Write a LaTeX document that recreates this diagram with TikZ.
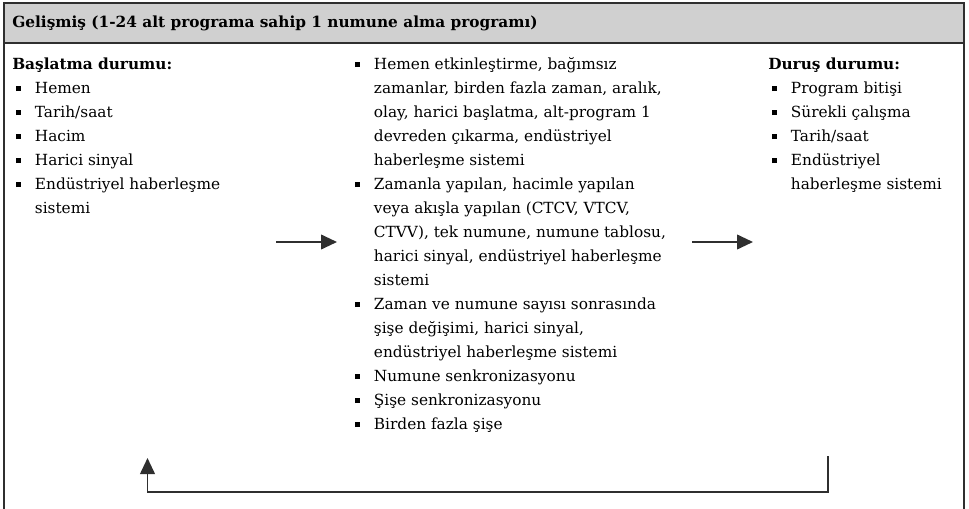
\documentclass[tikz,border=0pt]{standalone}
\usepackage{fontspec}
\setmainfont{DejaVu Serif}
\usetikzlibrary{arrows.meta,positioning,calc}
\definecolor{fhead}{HTML}{D0D0D0}
\definecolor{fline}{HTML}{2F2F2F}
\newcommand{\blt}{\makebox[17pt][l]{\hspace{2.5pt}\raisebox{1.6pt}{\rule{4pt}{4pt}}}}
\newcommand{\cnt}{\hspace*{17pt}}

\begin{document}
\begin{tikzpicture}[x=0.75pt, y=-0.75pt, font=\fontsize{11.5}{18}\selectfont,
  col/.style={anchor=north west, align=left, inner sep=0pt},
  flow/.style={line width=1.4pt, fline, -{Triangle[length=12pt,width=11pt]}}]
\useasboundingbox (0,0) rectangle (969,509);
% frame and header
\fill[fhead] (4,3) rectangle (964,43);
\draw[fline, line width=1.5pt] (4,520) -- (4,3) -- (964,3) -- (964,520);
\draw[fline, line width=1.5pt] (4,43) -- (964,43);
\node[col, anchor=base west] (title) at (12,28) {\textbf{Gelişmiş (1-24 alt programa sahip 1 numune alma programı)}};
% start conditions (first baseline at y=69)
\node[col] (start) at (12,52.2) {\strut\textbf{Başlatma durumu:}\\
  \blt Hemen\\
  \blt Tarih/saat\\
  \blt Hacim\\
  \blt Harici sinyal\\
  \blt Endüstriyel haberleşme\\
  \cnt sistemi};
% sampling modes
\node[col] (modes) at (351,52.2) {\strut\blt Hemen etkinleştirme, bağımsız\\
  \cnt zamanlar, birden fazla zaman, aralık,\\
  \cnt olay, harici başlatma, alt-program 1\\
  \cnt devreden çıkarma, endüstriyel\\
  \cnt haberleşme sistemi\\
  \blt Zamanla yapılan, hacimle yapılan\\
  \cnt veya akışla yapılan (CTCV, VTCV,\\
  \cnt CTVV), tek numune, numune tablosu,\\
  \cnt harici sinyal, endüstriyel haberleşme\\
  \cnt sistemi\\
  \blt Zaman ve numune sayısı sonrasında\\
  \cnt şişe değişimi, harici sinyal,\\
  \cnt endüstriyel haberleşme sistemi\\
  \blt Numune senkronizasyonu\\
  \blt Şişe senkronizasyonu\\
  \blt Birden fazla şişe};
% stop conditions
\node[col] (stop) at (768,52.2) {\strut\textbf{Duruş durumu:}\\
  \blt Program bitişi\\
  \blt Sürekli çalışma\\
  \blt Tarih/saat\\
  \blt Endüstriyel\\
  \cnt haberleşme sistemi};
% arrows
\coordinate (a1s) at (276,242);
\coordinate (a1e) at (337,242);
\coordinate (a2s) at (692,242);
\coordinate (a2e) at (753,242);
\draw[flow] (a1s) -- (a1e);
\draw[flow] (a2s) -- (a2e);
% loop back
\coordinate (loopR) at (828,456);
\coordinate (loopL) at (147.5,458);
\draw[flow] (loopR) -- ++(0,36) -| (loopL);
\end{tikzpicture}
\end{document}
